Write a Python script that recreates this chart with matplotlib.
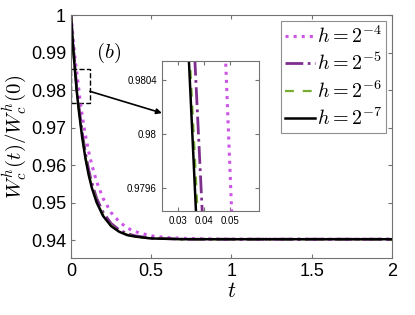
import matplotlib
matplotlib.use("Agg")
import matplotlib.pyplot as plt
from matplotlib.patches import Rectangle
from matplotlib.ticker import FuncFormatter

plt.rcParams['font.family'] = ['Liberation Sans', 'DejaVu Sans']
plt.rcParams['mathtext.fontset'] = 'cm'

# values
t_h4 = [0, 0.024, 0.0482, 0.0505, 0.07, 0.09, 0.11, 0.13, 0.16, 0.2, 0.25, 0.3, 0.35, 0.4, 0.5, 0.6, 0.8, 1, 2]
w_h4 = [1, 0.989, 0.98054, 0.97943, 0.9732, 0.9681, 0.9637, 0.9601, 0.9556, 0.9512, 0.9474, 0.9450,
        0.9433, 0.9423, 0.9412, 0.9407, 0.9404, 0.9403, 0.9403]

t_h5 = [0, 0.017, 0.0364, 0.0392, 0.05, 0.07, 0.09, 0.11, 0.13, 0.16, 0.2, 0.25, 0.3, 0.35, 0.4, 0.5, 0.7, 2]
w_h5 = [1, 0.9902, 0.98054, 0.97943, 0.9755, 0.9687, 0.9633, 0.9589, 0.9553, 0.9512, 0.9475, 0.9445,
        0.9428, 0.9418, 0.9412, 0.9406, 0.9403, 0.9403]

t_h6 = [0, 0.016, 0.0345, 0.0374, 0.05, 0.07, 0.09, 0.11, 0.13, 0.16, 0.2, 0.25, 0.3, 0.35, 0.4, 0.5, 0.7, 2]
w_h6 = [1, 0.99, 0.98054, 0.97943, 0.9746, 0.9678, 0.9623, 0.9579, 0.9544, 0.9504, 0.9468, 0.9440,
        0.9424, 0.9415, 0.9410, 0.9405, 0.9403, 0.9403]

t_h7 = [0, 0.0158, 0.0341, 0.0368, 0.05, 0.07, 0.09, 0.11, 0.13, 0.16, 0.2, 0.25, 0.3, 0.35, 0.4, 0.5, 0.7, 2]
w_h7 = [1, 0.99, 0.98054, 0.97943, 0.9742, 0.9674, 0.9619, 0.9575, 0.9540, 0.9501, 0.9465, 0.9438,
        0.9423, 0.9414, 0.9410, 0.9405, 0.9403, 0.9403]

labels = [r'$h=2^{-4}$', r'$h=2^{-5}$', r'$h=2^{-6}$', r'$h=2^{-7}$']
c_mag = '#cc55e6'
c_pur = '#7e2f8e'
c_grn = '#77ac30'
spine = '0.45'


def style(ax, fs):
    for s in ax.spines.values():
        s.set_color(spine)
        s.set_linewidth(0.8)
    ax.tick_params(direction='in', top=True, right=True, color=spine,
                   labelsize=fs, length=3, width=0.8)
    ax.yaxis.set_major_formatter(FuncFormatter(lambda v, p: '%g' % round(v, 6)))
    ax.xaxis.set_major_formatter(FuncFormatter(lambda v, p: '%g' % round(v, 6)))


def draw(ax):
    ax.plot(t_h4, w_h4, ':', color=c_mag, lw=2.2, label=labels[0])
    ax.plot(t_h5, w_h5, '-.', color=c_pur, lw=2.0, label=labels[1])
    ax.plot(t_h6, w_h6, '--', color=c_grn, lw=1.6, dashes=(4, 4), label=labels[2])
    ax.plot(t_h7, w_h7, '-', color='k', lw=1.8, label=labels[3])


fig = plt.figure(figsize=(4.15, 3.15), dpi=100)
ax = fig.add_axes([0.171, 0.181, 0.7735, 0.771])
draw(ax)
ax.set_xlim(0, 2)
ax.set_ylim(0.9353, 1)
ax.set_xticks([0, 0.5, 1, 1.5, 2])
ax.set_yticks([0.94, 0.95, 0.96, 0.97, 0.98, 0.99, 1])
style(ax, 13)
ax.set_xlabel(r'$t$', fontsize=16, labelpad=1)
ax.set_ylabel(r'$W_c^h(t)/W_c^h(0)$', fontsize=15, labelpad=1)
ax.text(0.155, 0.9885, r'$(b)$', fontsize=15)
ax.add_patch(Rectangle((0.003, 0.9765), 0.115, 0.0091, fill=False,
                       ls='--', lw=1, ec='k'))
ax.annotate('', xy=(0.567, 0.9739), xytext=(0.118, 0.9797),
            arrowprops=dict(arrowstyle='-|>', lw=1.2, color='k',
                            mutation_scale=8, shrinkA=0, shrinkB=0))
leg = ax.legend(loc='upper right', fontsize=14.5, handlelength=1.5,
                handletextpad=0.1, labelspacing=0.3, borderpad=0.2,
                fancybox=False, borderaxespad=0.3)
leg.get_frame().set_edgecolor(spine)
leg.get_frame().set_linewidth(0.8)

ins = fig.add_axes([0.390, 0.330, 0.234, 0.476])
draw(ins)
ins.set_xlim(0.0237, 0.061)
ins.set_ylim(0.97943, 0.98054)
ins.set_xticks([0.03, 0.04, 0.05])
ins.set_yticks([0.9796, 0.98, 0.9804])
style(ins, 7)

fig.savefig('out.png', dpi=100)
